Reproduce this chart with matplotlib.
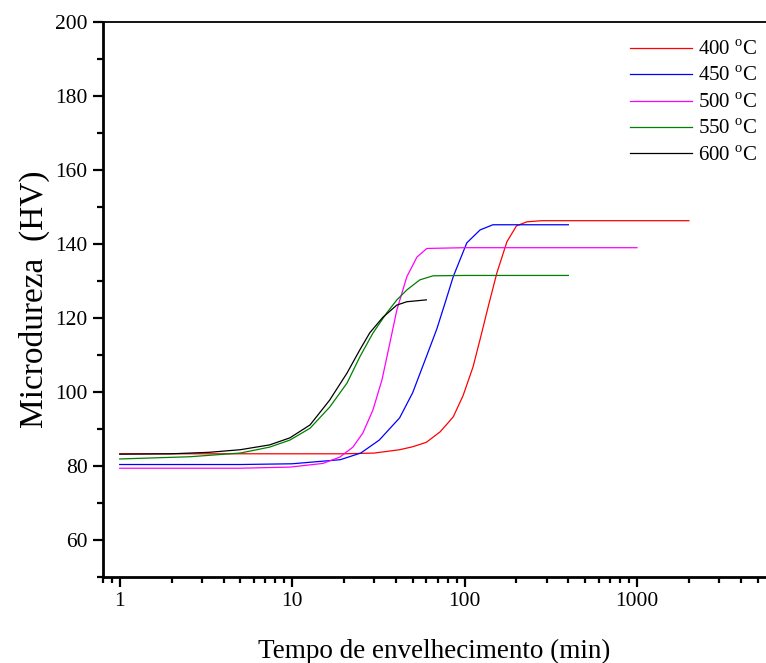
import matplotlib.pyplot as plt
from matplotlib.ticker import LogLocator, FixedLocator, NullFormatter

plt.rcParams['font.family'] = ['Liberation Serif', 'DejaVu Serif']
plt.rcParams['mathtext.fontset'] = 'custom'
plt.rcParams['mathtext.rm'] = 'Liberation Serif'

# dados
x_400 = [1, 5, 10, 20, 30, 42, 50, 60, 72, 80, 86, 98, 112, 125, 137, 154, 176, 200, 230, 280, 500, 1000, 2000]
y_400 = [83.3, 83.3, 83.3, 83.3, 83.5, 84.4, 85.2, 86.4, 89.2, 91.6, 93.3, 99, 106.8, 115.5, 123, 132.2, 140.6,
         144.9, 146, 146.3, 146.3, 146.3, 146.3]

x_450 = [1, 5, 10, 19, 25, 32, 42, 50, 60, 69, 77, 86, 103, 123, 146, 200, 400]
y_450 = [80.4, 80.4, 80.6, 81.7, 83.5, 87, 93, 99.8, 109.5, 117, 124, 131.2, 140.3, 143.8, 145.2, 145.2, 145.2]

x_500 = [1, 5, 9.7, 15.1, 18.9, 22.5, 25.7, 29.4, 33.2, 36.9, 40.5, 46.3, 53, 60.5, 100, 1000]
y_500 = [79.4, 79.4, 79.7, 80.7, 82.4, 85.1, 88.9, 95.1, 103.3, 113.3, 122.2, 131.2, 136.5, 138.8, 139, 139]

x_550 = [1, 2.55, 5, 7.4, 9.7, 12.7, 16.5, 20.8, 24.7, 29.4, 35.4, 40.5, 46.3, 55, 65.6, 100, 400]
y_550 = [81.9, 82.5, 83.5, 85.1, 87, 90.2, 95.9, 102.4, 109.5, 115.9, 121.4, 124.9, 127.6, 130.3, 131.4, 131.5, 131.5]

x_600 = [1, 2, 3.3, 5, 7.4, 9.7, 12.7, 16.5, 20.8, 24.7, 28.2, 33.6, 40.5, 46.3, 60]
y_600 = [83.2, 83.3, 83.7, 84.4, 85.7, 87.6, 91.1, 97.8, 105.1, 111.4, 116, 120.2, 123.5, 124.4, 124.9]

series = [
    (x_400, y_400, '#ff0000', '400 $^{\\rm o}$C'),
    (x_450, y_450, '#0000ff', '450 $^{\\rm o}$C'),
    (x_500, y_500, '#ff00ff', '500 $^{\\rm o}$C'),
    (x_550, y_550, '#008000', '550 $^{\\rm o}$C'),
    (x_600, y_600, '#000000', '600 $^{\\rm o}$C'),
]

fig = plt.figure(figsize=(7.66, 6.63), dpi=100)
ax = fig.add_axes([103 / 766, 1 - 577 / 663, 1 - 103 / 766, (577 - 22) / 663])

for x, y, c, lab in series:
    ax.plot(x, y, color=c, lw=0.9, label=lab)

ax.set_xscale('log')
ax.set_xlim(0.8, 5600)
ax.set_ylim(50, 200)

ax.xaxis.set_major_locator(FixedLocator([1, 10, 100, 1000]))
ax.xaxis.set_major_formatter(plt.FuncFormatter(lambda v, p: '%d' % v))
ax.xaxis.set_minor_locator(LogLocator(base=10, subs=range(2, 10)))
ax.xaxis.set_minor_formatter(NullFormatter())
ax.set_yticks([60, 80, 100, 120, 140, 160, 180, 200])
ax.set_yticks(range(50, 201, 10), minor=True)

ax.spines['right'].set_visible(False)
ax.spines['left'].set_linewidth(2)
ax.spines['bottom'].set_linewidth(2)
ax.spines['top'].set_linewidth(1.3)
ax.tick_params(which='major', direction='out', length=7, width=1.6, labelsize=15.5, pad=4)
ax.tick_params(which='minor', direction='out', length=4, width=1.6)
ax.tick_params(top=False, right=False, which='both')

ax.set_xlabel('Tempo de envelhecimento (min)', fontsize=19.5, labelpad=20)
ax.set_ylabel('Microdureza  (HV)', fontsize=24, labelpad=4)

ax.legend(loc='upper right', bbox_to_anchor=(1.0, 0.982), frameon=False, fontsize=15,
          handlelength=3.0, handletextpad=0.3, labelspacing=0.33, borderaxespad=0)

plt.savefig('out.png', dpi=100)
